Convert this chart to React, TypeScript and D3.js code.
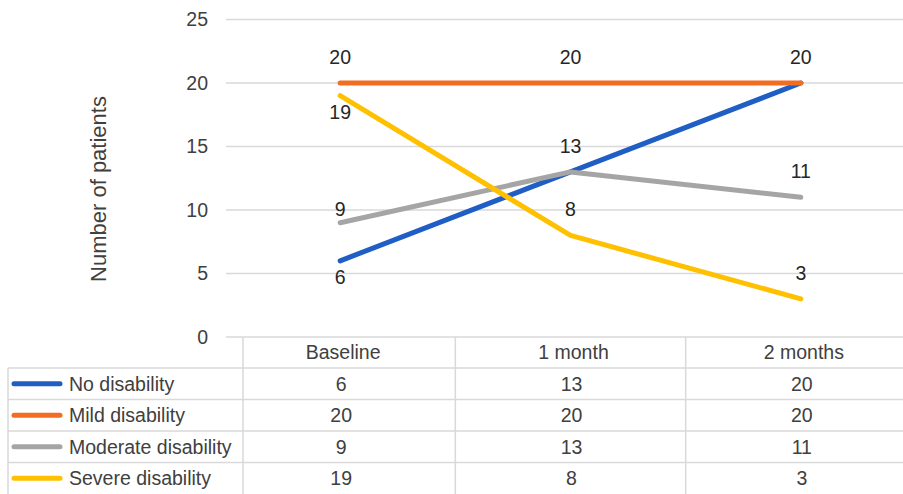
import React from "react";
import * as d3 from "d3";

const categories = ["Baseline", "1 month", "2 months"];
const seriesNames = ["No disability", "Mild disability", "Moderate disability", "Severe disability"];
const noDisability = [6, 13, 20];
const mildDisability = [20, 20, 20];
const moderateDisability = [9, 13, 11];
const severeDisability = [19, 8, 3];
const yTicks = [0, 5, 10, 15, 20, 25];
const seriesColors = ["#1F5EC4", "#F26D21", "#A5A5A5", "#FFC000"];
// label placement per point: "a" above, "b" below, "n" near above, "x" coincides with another label
const labelPlacement = [
  ["b", "x", "x"],
  ["a", "a", "a"],
  ["n", "a", "a"],
  ["b", "a", "a"],
];

const W = 903;
const H = 494;
const FONT = "'Liberation Sans', Arial, sans-serif";
const TEXT = "#404040";
const GRID = "#D9D9D9";
const FS = 19.5;

export default function App() {
  const series = [noDisability, mildDisability, moderateDisability, severeDisability];
  const y = d3.scaleLinear().domain([0, 25]).range([337, 19.5]);
  const x = d3.scaleBand<string>().domain(categories).range([225, 916]).padding(0);
  const cx = (c: string) => (x(c) as number) + x.bandwidth() / 2;
  const line = d3
    .line<number>()
    .x((_, i) => cx(categories[i]))
    .y((d) => y(d));

  const rowTop = 368;
  const rowH = 31.5;
  const headerY = 352;
  const gridLeft = 226;
  const tableLeft = 8;
  const firstDivider = 243;

  const offset = (p: string) => (p === "a" ? -26 : p === "n" ? -14 : 16);

  return (
    <svg
      width={W}
      height={H}
      style={{ position: "absolute", left: 0, top: 0, background: "#fff" }}
      fontFamily={FONT}
    >
      <rect x={0} y={0} width={W} height={H} fill="#fff" />
      {/* gridlines */}
      {yTicks.map((t) => (
        <line key={"g" + t} x1={gridLeft} x2={W} y1={y(t)} y2={y(t)} stroke={GRID} strokeWidth={1.5} />
      ))}
      {yTicks.map((t) => (
        <text key={"t" + t} x={208} y={y(t)} dy="0.35em" textAnchor="end" fontSize={FS} fill={TEXT}>
          {t}
        </text>
      ))}
      <text
        transform={`translate(106,189) rotate(-90)`}
        textAnchor="middle"
        fontSize={22}
        fill={TEXT}
      >
        Number of patients
      </text>

      {/* table */}
      {seriesNames.map((_, i) => (
        <line
          key={"h" + i}
          x1={tableLeft}
          x2={W}
          y1={rowTop + i * rowH}
          y2={rowTop + i * rowH}
          stroke={GRID}
          strokeWidth={1.5}
        />
      ))}
      <line x1={tableLeft} x2={tableLeft} y1={rowTop} y2={H} stroke={GRID} strokeWidth={1.5} />
      <line x1={firstDivider} x2={firstDivider} y1={y(0)} y2={H} stroke={GRID} strokeWidth={1.5} />
      {categories.slice(1).map((c) => (
        <line key={"v" + c} x1={x(c) as number} x2={x(c) as number} y1={y(0)} y2={H} stroke={GRID} strokeWidth={1.5} />
      ))}
      {categories.map((c) => (
        <text key={"hc" + c} x={cx(c) + 3} y={headerY} dy="0.35em" textAnchor="middle" fontSize={FS} fill={TEXT}>
          {c}
        </text>
      ))}
      {seriesNames.map((name, i) => {
        const cy = rowTop + i * rowH + rowH / 2;
        return (
          <g key={"r" + name}>
            <line x1={14} x2={60} y1={cy} y2={cy} stroke={seriesColors[i]} strokeWidth={5} strokeLinecap="round" />
            <text x={69} y={cy} dy="0.35em" fontSize={FS} fill={TEXT}>
              {name}
            </text>
            {categories.map((c, j) => (
              <text key={c} x={cx(c) + 1} y={cy} dy="0.35em" textAnchor="middle" fontSize={FS} fill={TEXT}>
                {series[i][j]}
              </text>
            ))}
          </g>
        );
      })}

      {/* lines */}
      {series.map((s, i) => (
        <path
          key={"l" + i}
          d={line(s) || ""}
          fill="none"
          stroke={seriesColors[i]}
          strokeWidth={5}
          strokeLinecap="round"
          strokeLinejoin="round"
        />
      ))}
      {/* data labels */}
      {series.map((s, i) =>
        s.map((v, j) =>
          labelPlacement[i][j] === "x" ? null : (
            <text
              key={"dl" + i + "-" + j}
              x={cx(categories[j])}
              y={y(v) + offset(labelPlacement[i][j])}
              dy="0.35em"
              textAnchor="middle"
              fontSize={FS}
              fill="#262626"
            >
              {v}
            </text>
          )
        )
      )}
    </svg>
  );
}
